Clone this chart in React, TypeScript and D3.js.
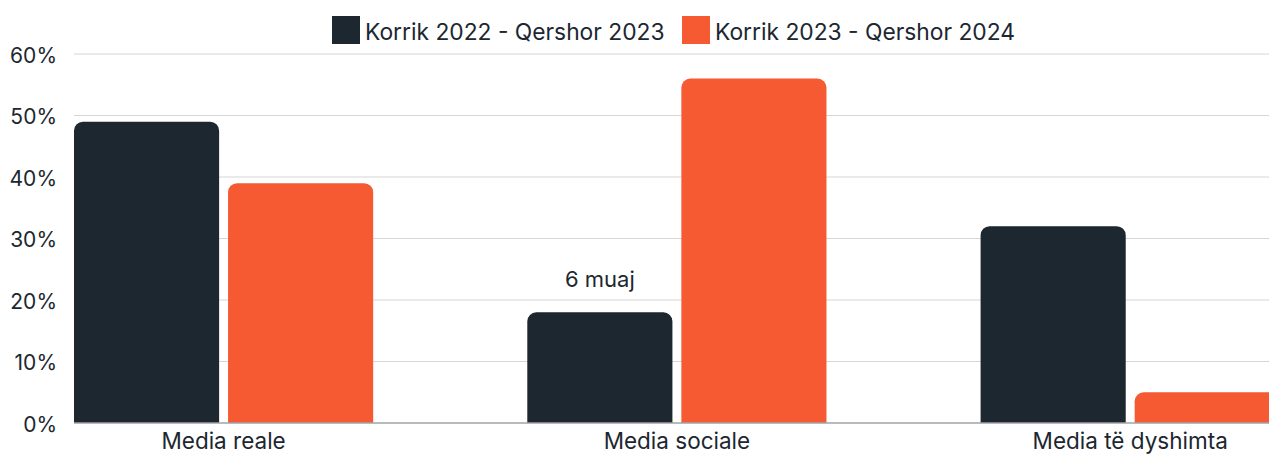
import * as d3 from "d3";

const categories = ["Media reale", "Media sociale", "Media të dyshimta"];
const seriesNames = ["Korrik 2022 - Qershor 2023", "Korrik 2023 - Qershor 2024"];
const period2223 = [49, 18, 32];
const period2324 = [39, 56, 5];
const yTicks = [0, 10, 20, 30, 40, 50, 60];
const annotation = { category: "Media sociale", series: 0, text: "6 muaj" };

const colors = ["#1c2730", "#f55a32"];
const font = "Inter, 'Noto Sans', sans-serif";

function topRounded(x: number, y: number, w: number, h: number, r: number) {
  const rr = Math.min(r, h, w / 2);
  const p = d3.path();
  p.moveTo(x, y + h);
  p.lineTo(x, y + rr);
  p.arcTo(x, y, x + rr, y, rr);
  p.lineTo(x + w - rr, y);
  p.arcTo(x + w, y, x + w, y + rr, rr);
  p.lineTo(x + w, y + h);
  p.closePath();
  return p.toString();
}

export default function App() {
  const width = 1269;
  const height = 455;
  const left = 74;
  const step = 453.3;
  const inner = 0.34;

  const x = d3
    .scaleBand<string>()
    .domain(categories)
    .range([left, left + step * (3 - inner)])
    .paddingInner(inner)
    .paddingOuter(0);

  const xs = d3
    .scaleBand<string>()
    .domain(seriesNames)
    .range([0, x.bandwidth()])
    .paddingInner(0.058);

  const y = d3.scaleLinear().domain([0, 60]).range([423, 54]);

  const values = [period2223, period2324];

  const annX =
    (x(annotation.category) ?? 0) +
    (xs(seriesNames[annotation.series]) ?? 0) +
    xs.bandwidth() / 2;
  const annY = y(values[annotation.series][categories.indexOf(annotation.category)]) - 25;

  // legend: square + label, laid out left to right
  const legendX = [332, 682];

  return (
    <svg
      width={width}
      height={height}
      style={{ position: "absolute", left: 0, top: 0, background: "#fff" }}
      fontFamily={font}
    >
      {yTicks.map((t) => (
        <g key={t}>
          {t > 0 && (
            <line x1={left} x2={width} y1={y(t)} y2={y(t)} stroke="#d6d6d6" strokeWidth={1.2} />
          )}
          <text x={57} y={y(t) + 8.5} textAnchor="end" fontSize={21} fill="#1c2730">
            {t}%
          </text>
        </g>
      ))}

      {categories.map((c, i) => (
        <g key={c} transform={`translate(${x(c)},0)`}>
          {seriesNames.map((s, j) => {
            const v = values[j][i];
            return (
              <path
                key={s}
                d={topRounded(xs(s) ?? 0, y(v), xs.bandwidth(), y(0) - y(v), 9)}
                fill={colors[j]}
              />
            );
          })}
          <text
            x={x.bandwidth() / 2}
            y={449}
            textAnchor="middle"
            fontSize={22.5}
            fill="#1c2730"
          >
            {c}
          </text>
        </g>
      ))}

      <line x1={left} x2={width} y1={y(0)} y2={y(0)} stroke="#a0a5a9" strokeWidth={1.5} />

      <text x={annX} y={annY} textAnchor="middle" fontSize={22} fill="#1c2730">
        {annotation.text}
      </text>

      {seriesNames.map((s, j) => (
        <g key={s} transform={`translate(${legendX[j]},16)`}>
          <rect width={28} height={28} fill={colors[j]} />
          <text x={33} y={23.5} fontSize={22.8} fill="#1c2730">
            {s}
          </text>
        </g>
      ))}
    </svg>
  );
}
